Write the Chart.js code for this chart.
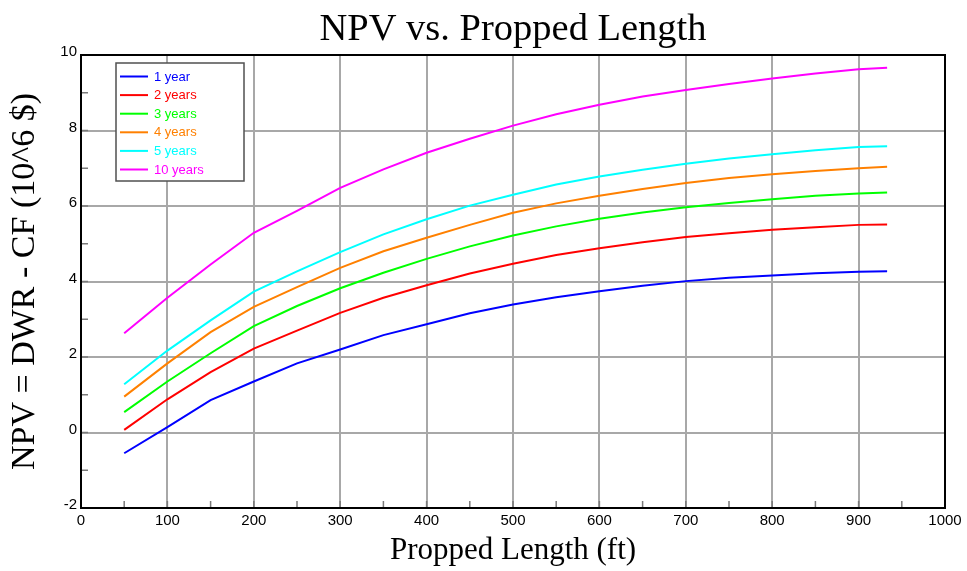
<!DOCTYPE html>
<html>
<head>
<meta charset="utf-8">
<title>NPV vs. Propped Length</title>
<script src="https://cdn.jsdelivr.net/npm/chart.js@4.4.1/dist/chart.umd.min.js"></script>
<style>
    html, body { margin: 0; padding: 0; background: #fff; }
    #wrap { width: 967px; height: 571px; }
</style>
</head>
<body>
<div id="wrap"><canvas id="npv_chart"></canvas></div>
<script>
// propped fracture half-length (ft)
const proppedLength = [50, 100, 150, 200, 250, 300, 350, 400, 450, 500, 550, 600, 650, 700, 750, 800, 850, 900, 933]

// NPV = DWR - CF, in 10^6 $, one array per evaluation period
const npv1Year   = [-0.55, 0.14, 0.86, 1.35, 1.83, 2.20, 2.58, 2.87, 3.16, 3.39, 3.58, 3.74, 3.89, 4.01, 4.10, 4.16, 4.22, 4.26, 4.27]
const npv2Years  = [0.07, 0.88, 1.60, 2.22, 2.70, 3.17, 3.57, 3.90, 4.21, 4.47, 4.70, 4.88, 5.04, 5.18, 5.28, 5.37, 5.44, 5.50, 5.51]
const npv3Years  = [0.54, 1.35, 2.10, 2.82, 3.35, 3.82, 4.23, 4.60, 4.93, 5.22, 5.46, 5.66, 5.83, 5.97, 6.08, 6.18, 6.27, 6.33, 6.36]
const npv4Years  = [0.95, 1.83, 2.66, 3.33, 3.85, 4.36, 4.80, 5.16, 5.50, 5.82, 6.07, 6.27, 6.45, 6.61, 6.74, 6.84, 6.93, 7.00, 7.04]
const npv5Years  = [1.28, 2.17, 2.97, 3.73, 4.27, 4.78, 5.25, 5.65, 6.01, 6.30, 6.57, 6.78, 6.96, 7.12, 7.26, 7.37, 7.48, 7.56, 7.58]
const npv10Years = [2.63, 3.57, 4.45, 5.29, 5.87, 6.48, 6.97, 7.41, 7.78, 8.13, 8.43, 8.68, 8.90, 9.07, 9.23, 9.38, 9.51, 9.62, 9.66]

const seriesLabels = ['1 year', '2 years', '3 years', '4 years', '5 years', '10 years']
const seriesValues = [npv1Year, npv2Years, npv3Years, npv4Years, npv5Years, npv10Years]
const seriesColors = ['#0000ff', '#ff0000', '#00ff00', '#ff8000', '#00ffff', '#ff00ff']

const chartTitle = 'NPV vs. Propped Length'

const serif = "'Liberation Serif', 'Times New Roman', serif"
const sans = "'Liberation Sans', Arial, sans-serif"
const gridGray = '#a8a8a8'

const datasets = seriesValues.map((vals, i) => ({
    label: seriesLabels[i],
    data: vals.map((v, j) => ({ x: proppedLength[j], y: v })),
    borderColor: seriesColors[i],
    backgroundColor: seriesColors[i],
    borderWidth: 2,
    pointRadius: 0,
    tension: 0,
    fill: false,
}))

// title centred over the plot area rather than the whole canvas
const plotTitle = {
    id: 'plotTitle',
    afterDraw (chart) {
        const { ctx, chartArea: a } = chart
        ctx.save()
        ctx.font = '38.5px ' + serif
        ctx.fillStyle = '#000'
        ctx.textAlign = 'center'
        ctx.textBaseline = 'alphabetic'
        ctx.fillText(chartTitle, (a.left + a.right) / 2, a.top - 15)
        ctx.restore()
    }
}

// frame round the plot + short inside tick marks at every x/y step
const frameAndTicks = {
    id: 'frameAndTicks',
    beforeDatasetsDraw (chart) {
        const { ctx, chartArea: a, scales } = chart
        ctx.save()
        ctx.strokeStyle = '#7a7a7a'
        ctx.lineWidth = 1.5
        ctx.beginPath()
        for (let v = 50; v < 1000; v += 50) {
            const px = scales.x.getPixelForValue(v)
            ctx.moveTo(px, a.bottom)
            ctx.lineTo(px, a.bottom - 7)
        }
        for (let v = -1; v < 10; v += 1) {
            const py = scales.y.getPixelForValue(v)
            ctx.moveTo(a.left, py)
            ctx.lineTo(a.left + 7, py)
        }
        ctx.stroke()
        ctx.strokeStyle = '#000'
        ctx.lineWidth = 2
        ctx.strokeRect(a.left, a.top, a.right - a.left, a.bottom - a.top)
        ctx.restore()
    }
}

// boxed legend in the upper left corner, labels in the series colour
const boxLegend = {
    id: 'boxLegend',
    afterDatasetsDraw (chart) {
        const { ctx, chartArea: a } = chart
        const left = a.left + 35
        const top = a.top + 8
        const w = 128
        const rowH = 18.6
        const h = 118
        ctx.save()
        ctx.fillStyle = '#fff'
        ctx.fillRect(left, top, w, h)
        ctx.strokeStyle = '#505050'
        ctx.lineWidth = 1.5
        ctx.strokeRect(left, top, w, h)
        ctx.font = '13px ' + sans
        ctx.textBaseline = 'middle'
        chart.data.datasets.forEach((ds, i) => {
            const y = top + 13.5 + i * rowH
            ctx.strokeStyle = ds.borderColor
            ctx.lineWidth = 2
            ctx.beginPath()
            ctx.moveTo(left + 4, y)
            ctx.lineTo(left + 32, y)
            ctx.stroke()
            ctx.fillStyle = ds.borderColor
            ctx.fillText(ds.label, left + 38, y + 0.5)
        })
        ctx.restore()
    }
}

const config = {
    type: 'line',
    data: { datasets: datasets },
    options: {
        responsive: true,
        maintainAspectRatio: false,
        animation: false,
        layout: { padding: { left: 0, right: 22, top: 55, bottom: 0 } },
        plugins: {
            legend: { display: false },
            tooltip: { enabled: false },
            title: { display: false },
        },
        scales: {
            x: {
                type: 'linear',
                min: 0,
                max: 1000,
                afterFit (scale) { scale.height = 63 },
                ticks: {
                    stepSize: 50,
                    autoSkip: false,
                    maxRotation: 0,
                    padding: 4,
                    color: '#000',
                    font: { family: sans, size: 15 },
                    callback: (v) => (v % 100 === 0 ? v : ''),
                },
                grid: {
                    drawTicks: false,
                    lineWidth: 2,
                    color: (ctx) => (ctx.tick && ctx.tick.value % 100 === 0 ? gridGray : 'transparent'),
                },
                border: { display: true, color: '#000', width: 2 },
                title: {
                    display: true,
                    text: 'Propped Length (ft)',
                    color: '#000',
                    font: { family: serif, size: 31, weight: 'normal', lineHeight: 1.2 },
                    padding: { top: 0, bottom: 2 },
                },
            },
            y: {
                min: -2,
                max: 10,
                afterFit (scale) { scale.width = 81 },
                ticks: {
                    stepSize: 1,
                    autoSkip: false,
                    padding: 4,
                    labelOffset: -3,
                    color: '#000',
                    font: { family: sans, size: 15 },
                    callback: (v) => (v % 2 === 0 ? v : ''),
                },
                grid: {
                    drawTicks: false,
                    lineWidth: 2,
                    color: (ctx) => (ctx.tick && ctx.tick.value % 2 === 0 ? gridGray : 'transparent'),
                },
                border: { display: true, color: '#000', width: 2 },
                title: {
                    display: true,
                    text: 'NPV = DWR - CF (10^6 $)',
                    color: '#000',
                    font: { family: serif, size: 34, weight: 'normal', lineHeight: 1.2 },
                    padding: { top: 5, bottom: 0 },
                },
            },
        },
    },
    plugins: [frameAndTicks, boxLegend, plotTitle],
}

const npvChart = new Chart(document.getElementById('npv_chart'), config)
</script>
</body>
</html>
